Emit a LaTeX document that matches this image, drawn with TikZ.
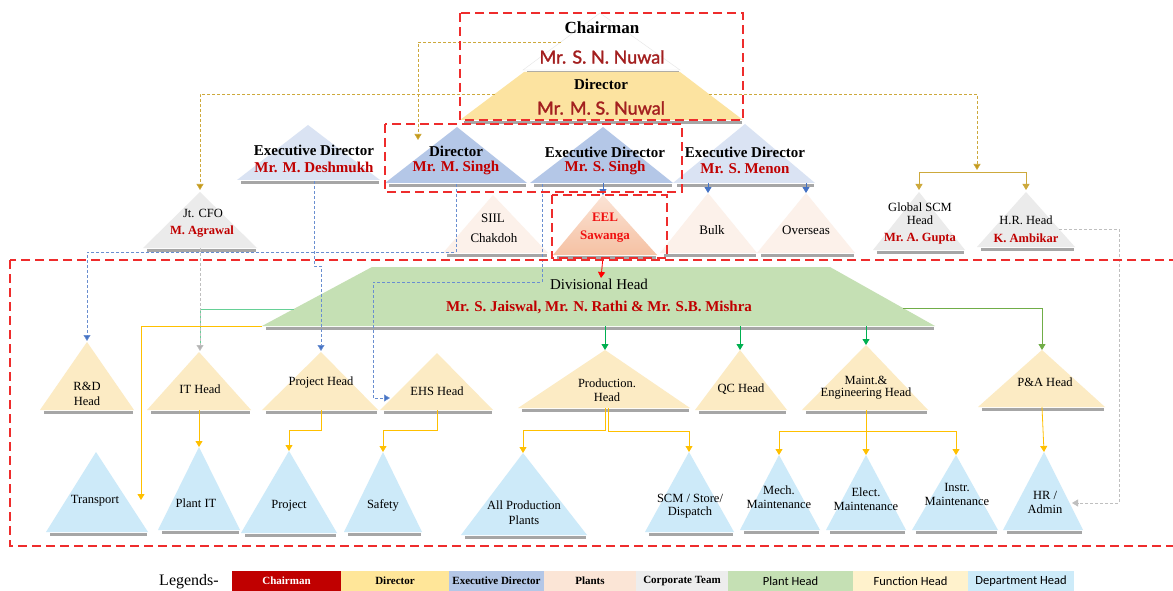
\documentclass[tikz,border=0pt]{standalone}
\usepackage{fontspec}
\setmainfont{Liberation Serif}
\newfontfamily\lato{Lato}[FakeBold=1.6]
\newfontfamily\carl{Carlito}
\usetikzlibrary{arrows.meta,calc}
\definecolor{dred}{HTML}{A31F1F}
\definecolor{nred}{HTML}{C00000}
\definecolor{bred}{HTML}{F01010}
\definecolor{gold}{HTML}{C49A1A}
\definecolor{edblue}{HTML}{B4C7E7}
\definecolor{edlight}{HTML}{DAE3F3}
\definecolor{plantc}{HTML}{FCF1EA}
\definecolor{eelT}{HTML}{FBE3D5}
\definecolor{eelB}{HTML}{F5C1A3}
\definecolor{corp}{HTML}{EBEBEB}
\definecolor{dirc}{HTML}{FCE3A0}
\definecolor{greenc}{HTML}{C5E0B4}
\definecolor{funcc}{HTML}{FCEBC4}
\definecolor{deptc}{HTML}{CDEAF9}
\definecolor{ablue}{HTML}{4472C4}
\definecolor{ayel}{HTML}{FFC000}
\definecolor{agreen}{HTML}{00B050}
\definecolor{lgreen}{HTML}{70AD47}
\definecolor{rdash}{HTML}{EE2C2C}
\definecolor{lgChair}{HTML}{C00000}
\definecolor{lgDir}{HTML}{FFE699}
\definecolor{lgPlant}{HTML}{FBE5D6}
\definecolor{lgCorp}{HTML}{EDEDED}
\definecolor{lgFunc}{HTML}{FFF2CC}
\definecolor{lgDept}{HTML}{CDEBF9}
\newcommand{\fs}[1]{\fontsize{#1}{#1}\selectfont}
\newcommand{\tri}[7]{%
  \coordinate (#1-t) at (#2,#3);
  \coordinate (#1-l) at (#4,#6);
  \coordinate (#1-r) at (#5,#6);
  \coordinate (#1-b) at (#2,#6);
  \draw[shadowline] ($(#1-l)+(4,2.5)$) -- ($(#1-r)+(-1,2.5)$);
  \path[#7] (#1-t) -- (#1-l) -- (#1-r) -- cycle;
}
\tikzset{
  shadowline/.style={draw=gray!70, line width=2.2pt},
  tip/.style={-{Triangle[width=7pt,length=6pt]}},
  golddash/.style={draw=gold!85, dash pattern=on 3pt off 2pt, line width=0.7pt},
  bluedash/.style={draw=ablue!80, dash pattern=on 3pt off 2pt, line width=0.7pt},
  greydash/.style={draw=gray!50, dash pattern=on 3pt off 2pt, line width=0.8pt},
  yline/.style={draw=ayel, line width=0.8pt},
  gline/.style={draw=agreen, line width=0.8pt},
  reddash/.style={draw=rdash, line width=1.6pt, dash pattern=on 9pt off 5pt},
  lab/.style={font=\fs{12.5}, inner sep=0pt},
  redb/.style={font=\bfseries\fs{12.5}, text=nred, inner sep=0pt},
  edt/.style={font=\bfseries\fs{15}, inner sep=0pt},
  edn/.style={font=\bfseries\fs{15}, text=nred, inner sep=0pt},
  lgbox/.style={draw=none, minimum height=20pt, inner sep=0pt, font=\bfseries\fs{11}},
  lgboxs/.style={draw=none, minimum height=20pt, inner sep=0pt, font=\carl\fs{12.5}}
}
\begin{document}
\begin{tikzpicture}[x=1pt,y=-1pt]
\useasboundingbox (0,0) rectangle (1173,591);
\clip (0,0) rectangle (1173,591);
\fill[white] (0,0) rectangle (1173,591);

% ---------- top: chairman and director ----------
\tri{chair}{600}{13}{523}{680}{70}{fill=white, draw=gray!20}
\coordinate (dirTL) at (524,72);
\coordinate (dirTR) at (680,72);
\coordinate (dirBR) at (743,120);
\coordinate (dirBL) at (460,120);
\draw[shadowline] ($(dirBL)+(4,2.5)$) -- ($(dirBR)+(-1,2.5)$);
\fill[dirc] (dirTL) -- (dirTR) -- (dirBR) -- (dirBL) -- cycle;

% ---------- executive directors ----------
\tri{desh}{308}{125}{237}{380}{180}{fill=edlight}
\tri{msingh}{457}{127}{385}{527}{183}{fill=edblue}
\tri{ssingh}{603}{127}{530}{673}{183}{fill=edblue}
\tri{menon}{745}{124}{673}{815}{183}{fill=edlight}

% ---------- plants ----------
\tri{siil}{493}{195}{443}{548}{253}{fill=plantc}
\tri{eel}{603}{195}{553}{657}{255}{top color=eelT, bottom color=eelB}
\tri{bulk}{708}{193}{660}{757}{253}{fill=plantc}
\tri{ovs}{806}{193}{757}{855}{253}{fill=plantc}

% ---------- corporate team ----------
\tri{cfo}{200}{192}{143}{257}{248}{fill=corp}
\tri{gscm}{919}{192}{873}{965}{250}{fill=corp}
\tri{hr}{1026}{192}{977}{1075}{247}{fill=corp}

% ---------- divisional head ----------
\coordinate (dvTL) at (372,267);
\coordinate (dvTR) at (830,267);
\coordinate (dvBR) at (935,326);
\coordinate (dvBL) at (262,326);
\draw[shadowline] ($(dvBL)+(4,2.5)$) -- ($(dvBR)+(-1,2.5)$);
\fill[greenc] (dvTL) -- (dvTR) -- (dvBR) -- (dvBL) -- cycle;

% ---------- function heads ----------
\tri{rd}{87}{342}{40}{134}{410}{fill=funcc}
\tri{it}{199}{352}{147}{251}{410}{fill=funcc}
\tri{ph}{321}{352}{262}{378}{410}{fill=funcc}
\tri{ehs}{437}{353}{380}{493}{410}{fill=funcc}
\tri{prod}{605}{350}{518}{690}{408}{fill=funcc}
\tri{qc}{740}{350}{695}{787}{410}{fill=funcc}
\tri{mnt}{866}{345}{802}{928}{410}{fill=funcc}
\tri{pa}{1042}{350}{978}{1105}{407}{fill=funcc}

% ---------- department heads ----------
\tri{tr}{96}{452}{46}{148}{532}{fill=deptc}
\tri{pit}{199}{447}{158}{240}{530}{fill=deptc}
\tri{prj}{289}{451}{241}{337}{533}{fill=deptc}
\tri{saf}{383}{452}{344}{422}{532}{fill=deptc}
\tri{app}{523}{453}{461}{587}{535}{fill=deptc}
\tri{scm}{689}{452}{645}{734}{532}{fill=deptc}
\tri{mech}{779}{455}{740}{820}{530}{fill=deptc}
\tri{elec}{866}{455}{826}{906}{530}{fill=deptc}
\tri{instr}{956}{455}{912}{998}{530}{fill=deptc}
\tri{hra}{1044}{452}{1003}{1083}{530}{fill=deptc}

% ---------- connector helper coordinates ----------
\coordinate (chL) at (561,42);
\coordinate (msA) at (418,140);
\coordinate (dirL) at (495,94);
\coordinate (dirR) at (709,94);
\coordinate (gJ) at (977,172);
\coordinate (gA) at (977,170);
\coordinate (gscmA) at (919,190);
\coordinate (hrA) at (1026,190);
\coordinate (cfoA) at (200,190);
\coordinate (eelA) at (603,195);
\coordinate (bulkA) at (708,193);
\coordinate (ovsA) at (806,193);
\coordinate (eelOut) at (603,257);
\coordinate (dvIn) at (601,278);
\coordinate (deshJ) at (314,266);
\coordinate (deshS) at (314,181);
\coordinate (phA) at (321,351);
\coordinate (msS) at (456,184);
\coordinate (msJ) at (456,252);
\coordinate (rdA) at (87,341);
\coordinate (ssS) at (542,184);
\coordinate (ssJ) at (542,282);
\coordinate (ehsJ) at (373,282);
\coordinate (ehsK) at (373,398);
\coordinate (ehsA) at (390,398);
\coordinate (dvL) at (294,309);
\coordinate (itA) at (200,351);
\coordinate (dvR) at (903,308);
\coordinate (hrR) at (1059,229);
\coordinate (hrJ) at (1119,229);
\coordinate (hraJ) at (1119,503);
\coordinate (hraA) at (1072,503);
\coordinate (trA) at (141,500);
\coordinate (trJ) at (141,326);

% ---------- connectors ----------
\draw[golddash, -{Triangle[width=7pt,length=6pt,fill=gold]}] (chL) -| (msA);
\draw[golddash, -{Triangle[width=7pt,length=6pt,fill=gold]}] (dirL) -| (cfoA);
\draw[golddash, -{Triangle[width=7pt,length=6pt,fill=gold]}] (dirR) -| (gA);
\draw[draw=gold!85, line width=0.8pt, -{Triangle[width=7pt,length=6pt]}] (gJ) -| (gscmA);
\draw[draw=gold!85, line width=0.8pt, -{Triangle[width=7pt,length=6pt]}] (gJ) -| (hrA);

\draw[draw=ablue, line width=0.8pt, tip] (ssingh-b) -- (eelA);
\draw[draw=ablue, line width=0.8pt, tip] (bulkA |- menon-b) -- (bulkA);
\draw[draw=ablue, line width=0.8pt, tip] (ovsA |- menon-b) -- (ovsA);
\draw[draw=red, line width=0.8pt, tip] (eelOut) -- (dvIn);

\draw[bluedash, -{Triangle[width=7pt,length=6pt,fill=ablue]}] (deshS) -- (deshJ) -| (phA);
\draw[bluedash, -{Triangle[width=7pt,length=6pt,fill=ablue]}] (msS) -- (msJ) -| (rdA);
\draw[bluedash, -{Triangle[width=7pt,length=6pt,fill=ablue]}] (ssS) -- (ssJ) -- (ehsJ) -- (ehsK) -- (ehsA);

\draw[draw=agreen!60, line width=0.8pt] (dvL) -| ($(itA)+(0,-8)$);
\draw[greydash, -{Triangle[width=7pt,length=6pt,fill=gray!60]}] (cfo-b) -- (itA);

\draw[gline, tip] (dvBL -| prod-t) -- (prod-t);
\draw[gline, tip] (dvBL -| qc-t) -- (qc-t);
\draw[gline, tip] (dvBL -| mnt-t) -- (mnt-t);
\draw[draw=lgreen, line width=0.8pt, tip] (dvR) -| (pa-t);

\draw[greydash, -{Triangle[width=7pt,length=6pt,fill=gray!50]}] (hrR) -- (hrJ) -- (hraJ) -- (hraA);

\draw[yline, tip] (dvBL) -- (trJ) -- (trA);
\draw[yline, tip] (it-b) -- (pit-t);
\draw[yline, tip] (ph-b) -- ++(0,20) -| (prj-t);
\draw[yline, tip] (ehs-b) -- ++(0,20) -| (saf-t);
\draw[yline, tip] (prod-b) -- ++(0,22) -| (app-t);
\draw[yline, tip] ($(prod-b)+(3,0)$) -- ++(0,23) -| (scm-t);
\draw[yline] (mnt-b) -- ++(0,21);
\draw[yline, tip] ($(mnt-b)+(0,21)$) -| (mech-t);
\draw[yline, tip] ($(mnt-b)+(0,21)$) -- (elec-t);
\draw[yline, tip] ($(mnt-b)+(0,21)$) -| (instr-t);
\draw[yline, tip] (pa-b) -- (hra-t);

% ---------- red dashed frames ----------
\draw[reddash] (460,13) rectangle (743,120);
\draw[reddash] (385,124) rectangle (682,192);
\draw[reddash] (552,195) rectangle (667,258);
\draw[reddash] (10,260) rectangle (1190,546);

% ---------- texts ----------
\node[font=\bfseries\fs{17}, inner sep=0pt] (tChair) at (602,28) {Chairman};
\node[font=\lato\fs{18}, text=dred, inner sep=0pt] (tChairN) at (602,57) {Mr. S. N. Nuwal};
\node[font=\bfseries\fs{15}, inner sep=0pt] (tDir) at (601,84) {Director};
\node[font=\lato\fs{18}, text=dred, inner sep=0pt] (tDirN) at (601,108) {Mr. M. S. Nuwal};

\node[edt] (tDesh) at (314,150) {Executive Director};
\node[edn] (tDeshN) at (314,167) {Mr. M. Deshmukh};
\node[edt] (tMs) at (456,151) {Director};
\node[edn] (tMsN) at (456,168) {Mr. M. Singh};
\node[edt] (tSs) at (605,152) {Executive Director};
\node[edn] (tSsN) at (605,168) {Mr. S. Singh};
\node[edt] (tMe) at (745,152) {Executive Director};
\node[edn] (tMeN) at (745,169) {Mr. S. Menon};

\node[lab] (tCfo) at (203,213) {Jt. CFO};
\node[redb] (tCfoN) at (202,232) {M. Agrawal};
\node[lab] (tGs1) at (920,207) {Global SCM};
\node[lab] (tGs2) at (920,220) {Head};
\node[redb] (tGsN) at (920,239) {Mr.\ A. Gupta};
\node[lab] (tHr) at (1026,220) {H.R. Head};
\node[redb] (tHrN) at (1026,238) {K. Ambikar};

\node[lab, font=\fs{13}] (tSi1) at (493,218) {SIIL};
\node[lab, font=\fs{13}] (tSi2) at (494,238) {Chakdoh};
\node[lab, font=\bfseries\fs{13}, text=bred] (tEe1) at (605,217) {EEL};
\node[lab, font=\bfseries\fs{13}, text=bred] (tEe2) at (605,237) {Sawanga};
\node[lab, font=\fs{13}] (tBu) at (712,230) {Bulk};
\node[lab, font=\fs{13}] (tOv) at (806,230) {Overseas};

\node[font=\fs{15}, inner sep=0pt] (tDv) at (599,284) {Divisional\ Head};
\node[font=\bfseries\fs{15}, text=nred, inner sep=0pt] (tDvN) at (599,307) {Mr. S. Jaiswal, Mr. N. Rathi \& Mr. S.B. Mishra};

\node[lab] (tRd1) at (87,386) {R\&D};
\node[lab] (tRd2) at (87,401) {Head};
\node[lab] (tIt) at (200,389) {IT Head};
\node[lab] (tPh) at (321,382) {Project Head};
\node[lab] (tEhs) at (437,391) {EHS Head};
\node[lab] (tPr1) at (607,383) {Production.};
\node[lab] (tPr2) at (607,397) {Head};
\node[lab] (tQc) at (741,389) {QC Head};
\node[lab] (tMn1) at (866,380) {Maint.\&};
\node[lab] (tMn2) at (866,394) {Engineering Head};
\node[lab] (tPa) at (1045,382) {P\&A Head};

\node[lab] (tTr) at (95,501) {Transport};
\node[lab] (tPit) at (196,503) {Plant IT};
\node[lab] (tPrj) at (289,506) {Project};
\node[lab] (tSaf) at (383,505) {Safety};
\node[lab] (tAp1) at (524,505) {All Production};
\node[lab] (tAp2) at (524,520) {Plants};
\node[lab] (tSc1) at (690,498) {SCM / Store/};
\node[lab] (tSc2) at (690,512) {Dispatch};
\node[lab] (tMe1) at (779,490) {Mech.};
\node[lab] (tMe2) at (779,504) {Maintenance};
\node[lab] (tEl1) at (866,492) {Elect.};
\node[lab] (tEl2) at (866,506) {Maintenance};
\node[lab] (tIn1) at (957,487) {Instr.};
\node[lab] (tIn2) at (957,501) {Maintenance};
\node[lab] (tHa1) at (1045,495) {HR /};
\node[lab] (tHa2) at (1045,509) {Admin};

% ---------- legend ----------
\node[font=\fs{16}, inner sep=0pt] (lgT) at (189,582) {Legends-};
\node[lgbox, fill=lgChair, text=white, minimum width=109pt] (lg1) at (286.5,581) {Chairman};
\node[lgbox, fill=lgDir, minimum width=108pt] (lg2) at (395,581) {Director};
\node[lgbox, fill=edblue, minimum width=95pt] (lg3) at (496.5,581) {Executive Director};
\node[lgbox, fill=lgPlant, minimum width=92pt] (lg4) at (590,581) {Plants};
\node[lgbox, fill=lgCorp, minimum width=92pt] (lg5) at (682,581) {Corporate Team};
\node[lgboxs, fill=greenc, minimum width=125pt] (lg6) at (790.5,581) {Plant Head};
\node[lgboxs, fill=lgFunc, minimum width=115pt] (lg7) at (910.5,581) {Function Head};
\node[lgboxs, fill=lgDept, minimum width=106pt] (lg8) at (1021,581) {Department Head};
\end{tikzpicture}
\end{document}
